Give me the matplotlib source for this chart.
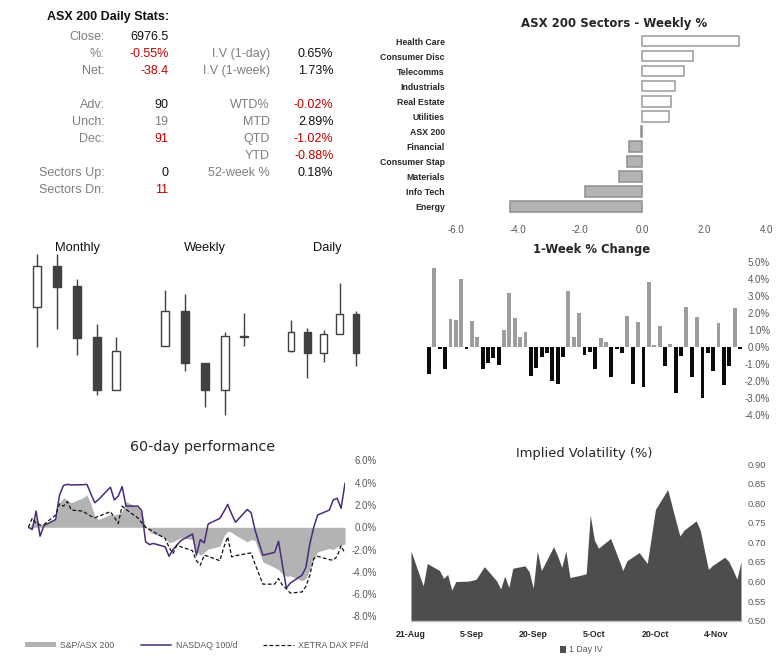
import matplotlib
matplotlib.use("Agg")
import matplotlib.pyplot as plt
import numpy as np
import pandas as pd
from matplotlib.lines import Line2D
from matplotlib.patches import Patch

plt.rcParams['font.family'] = ['Liberation Sans', 'DejaVu Sans']

W, H = 780, 656

# ---------------- data ----------------
stats_title = "ASX 200 Daily Stats:"
left_labels = ["Close:", "%:", "Net:", "", "Adv:", "Unch:", "Dec:", "", "Sectors Up:", "Sectors Dn:"]
left_values = ["6976.5", "-0.55%", "-38.4", "", "90", "19", "91", "", "0", "11"]
left_tone = ["k", "r", "r", "k", "k", "g", "r", "k", "k", "r"]
right_labels = ["", "I.V (1-day)", "I.V (1-week)", "", "WTD%", "MTD", "QTD", "YTD", "52-week %", ""]
right_values = ["", "0.65%", "1.73%", "", "-0.02%", "2.89%", "-1.02%", "-0.88%", "0.18%", ""]
right_tone = ["k", "k", "k", "k", "r", "k", "r", "r", "k", "k"]

sectors = ["Health Care", "Consumer Disc", "Telecomms", "Industrials", "Real Estate", "Utilities",
           "ASX 200", "Financial", "Consumer Stap", "Materials", "Info Tech", "Energy"]
sector_weekly = [3.13, 1.65, 1.36, 1.06, 0.95, 0.86, -0.02, -0.43, -0.50, -0.75, -1.83, -4.27]
sector_ticks = [-6.0, -4.0, -2.0, 0.0, 2.0, 4.0]

week_change = [-1.57, 4.65, -0.08, -1.25, 1.67, 1.59, 4.0, -0.08, 1.55, 0.61, -1.25, -0.9, -0.61,
               -1.04, 1.02, 3.22, 1.75, 0.61, 0.9, -1.69, -1.22, -0.57, -0.33, -1.98, -2.16, -0.59,
               3.33, 0.61, 2.04, -0.45, -0.3, -1.27, 0.53, 0.29, -1.75, -0.1, -0.33, 1.84, -2.16,
               1.51, -2.33, 3.82, 0.14, 1.25, -1.1, 0.2, -2.69, -0.51, 2.39, -1.75, 1.8, -2.98,
               -0.31, -1.39, 1.45, -2.22, -1.1, 2.33, -0.08]
week_ticks = [-4, -3, -2, -1, 0, 1, 2, 3, 4, 5]

monthly_o = [7203, 7410, 7308, 7048, 6780]
monthly_h = [7471, 7471, 7342, 7113, 7047]
monthly_l = [6999, 7091, 6958, 6751, 6780]
monthly_c = [7410, 7305, 7045, 6780, 6976.5]

weekly_o = [6942.5, 7073.5, 6875.7, 6776.2, 6977.8]
weekly_h = [7152.9, 7137.8, 6875.7, 6992.9, 7064.7]
weekly_l = [6942.5, 6845.5, 6711.9, 6680.4, 6940.0]
weekly_c = [7073.5, 6875.7, 6776.2, 6977.8, 6976.5]

daily_o = [6978.5, 6997.2, 6976.5, 6995.2, 7014.9]
daily_h = [7009.3, 7001.1, 6999.5, 7045.4, 7018.2]
daily_l = [6977.8, 6951.9, 6967.6, 6995.2, 6964.0]
daily_c = [6997.2, 6976.5, 6995.2, 7014.9, 6976.5]

trade_days = pd.bdate_range("2023-08-21", "2023-11-10")

asx200_perf = [0.0, 0.3, 0.9, 0.2, 0.3,
               0.7, 2.2, 2.65, 2.45, 2.2,
               2.65, 2.9, 2.1, 1.0, 0.7,
               1.15, 1.1, 1.2, 1.4, 2.3,
               1.8, 1.3, 0.1, -0.4, -0.6,
               -0.95, -1.4, -1.3, -1.1, -0.95,
               -1.1, -2.1, -2.5, -2.25, -1.95,
               -1.7, -0.8, -0.35, -0.45, -0.7,
               -1.3, -1.1, -1.2, -2.2, -3.1,
               -3.6, -3.8, -4.2, -4.4, -4.35,
               -4.8, -4.6, -3.8, -2.9, -2.2,
               -1.9, -2.0, -1.75, -1.6, -1.5]
nasdaq_perf = [0.0, -0.2, 1.45, -0.8, 0.15,
               0.7, 2.9, 3.75, 3.85, 3.8,
               3.82, 3.85, 3.0, 2.2, 2.5,
               3.6, 2.45, 2.8, 3.65, 1.9,
               1.9, 1.5, -1.3, -1.55, -1.45,
               -1.75, -2.6, -2.0, -1.6, -1.2,
               -0.6, -2.5, -1.1, -1.4, 0.3,
               0.8, 1.4, 2.05, 1.2, 0.45,
               1.6, 1.3, -0.25, -1.4, -2.5,
               -2.25, -1.25, -3.4, -5.45, -5.0,
               -4.3, -3.6, -1.5, 0.0, 1.1,
               1.55, 2.45, 2.6, 1.7, 3.95]
dax_perf = [0.0, 0.8, 0.35, 0.2, 0.25,
            1.1, 2.1, 1.9, 2.3, 1.55,
            1.45, 1.2, 1.0, 0.85, 1.0,
            1.4, 0.9, 0.35, 1.9, 1.6,
            0.85, 0.4, 0.0, -0.2, -0.4,
            -1.0, -1.8, -2.35, -1.6, -1.75,
            -2.1, -3.0, -3.4, -2.5, -2.6,
            -3.0, -1.8, -0.85, -2.65, -2.55,
            -2.35, -2.3, -3.3, -4.2, -5.1,
            -5.1, -4.6, -5.2, -5.5, -5.9,
            -5.8, -5.3, -4.3, -2.8, -2.6,
            -2.9, -2.95, -2.6, -1.65, -2.35]
perf_ticks = [-8, -6, -4, -2, 0, 2, 4, 6]
perf_labels = ["S&P/ASX 200", "NASDAQ 100/d", "XETRA DAX PF/d"]

iv_1day = [0.678, 0.648, 0.618, 0.589, 0.646,
           0.628, 0.608, 0.618, 0.578, 0.600,
           0.601, 0.603, 0.606, 0.622, 0.638,
           0.602, 0.581, 0.614, 0.585, 0.634,
           0.640, 0.625, 0.583, 0.678, 0.628,
           0.689, 0.665, 0.636, 0.678, 0.610,
           0.617, 0.620, 0.770, 0.706, 0.685,
           0.710, 0.683, 0.656, 0.628, 0.653,
           0.674, 0.660, 0.646, 0.715, 0.784,
           0.835, 0.795, 0.755, 0.716, 0.731,
           0.755, 0.731, 0.680, 0.631, 0.641,
           0.662, 0.651, 0.630, 0.606, 0.651]
iv_tick_labels = ["21-Aug", "5-Sep", "20-Sep", "5-Oct", "20-Oct", "4-Nov"]
iv_ticks = [0.50, 0.55, 0.60, 0.65, 0.70, 0.75, 0.80, 0.85, 0.90]

# ---------------- figure ----------------
fig = plt.figure(figsize=(W / 100, H / 100), dpi=100)
fig.patch.set_facecolor("white")


def px_axes(x0, y0, x1, y1):
    return fig.add_axes([x0 / W, 1 - y1 / H, (x1 - x0) / W, (y1 - y0) / H])


def fx(x):
    return x / W


def fy(y):
    return 1 - y / H


TONE = {"k": "#111111", "r": "#c00000", "g": "#7f7f7f"}
LABEL_GREY = "#7f7f7f"
TICK_GREY = "#595959"
NARROW = ['Liberation Sans Narrow', 'Liberation Sans', 'DejaVu Sans']

# ---- stats table ----
fig.text(fx(47), fy(17), stats_title, fontsize=9, fontweight="bold", ha="left", va="center", color="#111111")
row_y0, row_dy = 36.7, 17.0
for i in range(len(left_labels)):
    yy = fy(row_y0 + row_dy * i)
    if left_labels[i]:
        fig.text(fx(104.5), yy, left_labels[i], fontsize=9, ha="right", va="center", color=LABEL_GREY)
        fig.text(fx(168.5), yy, left_values[i], fontsize=9, ha="right", va="center", color=TONE[left_tone[i]])
    if right_labels[i]:
        fig.text(fx(270), yy, right_labels[i], fontsize=9, ha="right", va="center", color=LABEL_GREY)
        fig.text(fx(333.5), yy, right_values[i], fontsize=9, ha="right", va="center", color=TONE[right_tone[i]])

# ---- sector chart ----
ax = px_axes(456, 32, 766, 215.7)
ypos = np.arange(len(sectors))
fills = ["white" if v >= 0 else "#b4b4b4" for v in sector_weekly]
edges = ["#9a9a9a" if v >= 0 else "#8f8f8f" for v in sector_weekly]
ax.barh(ypos, sector_weekly, height=0.7, color=fills, edgecolor=edges, linewidth=1.1)
ax.set_xlim(-6, 4)
ax.set_ylim(11.6, -0.6)
ax.set_xticks(sector_ticks)
ax.set_xticklabels(["%.1f" % t for t in sector_ticks], fontsize=7, color=TICK_GREY, family=NARROW)
ax.set_yticks(ypos)
ax.set_yticklabels(sectors, fontsize=6.3, fontweight="bold", color="#262626", family=NARROW)
ax.tick_params(axis="both", length=0)
ax.tick_params(axis="x", pad=7)
ax.tick_params(axis="y", pad=8)
for s in ax.spines.values():
    s.set_visible(False)
fig.text(fx(614), fy(24), "ASX 200 Sectors - Weekly %", fontsize=8.5, fontweight="bold",
         family="DejaVu Sans", ha="center", va="center", color="#262626")

# ---- candlesticks ----
def candles(axc, o, h, l, c, ylim):
    x = np.arange(len(o))
    axc.vlines(x, l, h, color="#404040", linewidth=1.0, zorder=1)
    bottoms = [min(a, b) for a, b in zip(o, c)]
    heights = [abs(b - a) for a, b in zip(o, c)]
    cols = ["white" if b >= a else "#404040" for a, b in zip(o, c)]
    axc.bar(x, heights, bottom=bottoms, width=0.41, color=cols, edgecolor="#404040", linewidth=1.0, zorder=2)
    axc.set_xlim(-0.5, len(o) - 0.5)
    axc.set_ylim(*ylim)
    axc.axis("off")


candles(px_axes(27.4, 250, 126.2, 420), monthly_o, monthly_h, monthly_l, monthly_c, (6625.5, 7491.5))
candles(px_axes(155.4, 250, 254.2, 420), weekly_o, weekly_h, weekly_l, weekly_c, (6661.5, 7304.1))
candles(px_axes(282.9, 250, 364.1, 420), daily_o, daily_h, daily_l, daily_c, (6910.9, 7078.2))
for label, cx in (("Monthly", 77), ("Weekly", 205), ("Daily", 327)):
    fig.text(fx(cx), fy(248), label, fontsize=9.3, ha="center", va="center", color="#111111")

# ---- 1-week % change ----
ax = px_axes(426.3, 262.3, 742.7, 415.3)
xb = np.arange(len(week_change))
bcols = ["#9d9d9d" if v >= 0 else "#0a0a0a" for v in week_change]
ax.bar(xb, week_change, width=0.72, color=bcols, linewidth=0)
ax.set_xlim(-0.5, len(week_change) - 0.5)
ax.set_ylim(-4, 5)
ax.set_xticks([])
ax.yaxis.tick_right()
ax.set_yticks(week_ticks)
ax.set_yticklabels(["%.1f%%" % t for t in week_ticks], fontsize=7, color=TICK_GREY, family=NARROW)
for t in ax.get_yticklabels():
    t.set_horizontalalignment("right")
ax.tick_params(axis="y", length=0, pad=19.7)
for s in ax.spines.values():
    s.set_visible(False)
fig.text(fx(592), fy(250), "1-Week % Change", fontsize=8.4, fontweight="bold",
         family="DejaVu Sans", ha="center", va="center", color="#262626")

# ---- 60-day performance ----
ax = px_axes(28.3, 460.4, 345, 616.5)
ax.fill_between(trade_days, asx200_perf, 0, color="#b3b3b3", linewidth=0, label=perf_labels[0])
ax.plot(trade_days, nasdaq_perf, color="#4b2a7b", linewidth=1.1, label=perf_labels[1])
ax.plot(trade_days, dax_perf, color="#111111", linewidth=0.9, dashes=(3, 1.8), label=perf_labels[2])
ax.set_xlim(trade_days[0], trade_days[-1])
ax.set_ylim(-8, 6)
ax.set_xticks([])
ax.yaxis.tick_right()
ax.set_yticks(perf_ticks)
ax.set_yticklabels(["%.1f%%" % t for t in perf_ticks], fontsize=7, color=TICK_GREY, family=NARROW)
for t in ax.get_yticklabels():
    t.set_horizontalalignment("right")
ax.tick_params(axis="y", length=0, pad=23)
for s in ax.spines.values():
    s.set_visible(False)
fig.text(fx(203), fy(447), "60-day performance", fontsize=10.3, family="DejaVu Sans",
         ha="center", va="center", color="#262626")
handles = [Patch(facecolor="#b3b3b3", edgecolor="none"),
           Line2D([], [], color="#4b2a7b", linewidth=1.1),
           Line2D([], [], color="#111111", linewidth=0.9, dashes=(3, 1.8))]
fig.legend(handles, perf_labels, loc="center", bbox_to_anchor=(fx(197), fy(645)), ncol=3,
           frameon=False, fontsize=6.3, handlelength=3.5, handleheight=0.5, columnspacing=3.0,
           handletextpad=0.5, labelcolor=TICK_GREY)

# ---- implied volatility ----
ax = px_axes(411, 464, 741, 620.7)
ax.fill_between(trade_days, iv_1day, 0.5, color="#4d4d4d", linewidth=0, label="1 Day IV")
ax.set_xlim(trade_days[0], trade_days[-1])
ax.set_ylim(0.5, 0.9)
ax.yaxis.tick_right()
ax.set_yticks(iv_ticks)
ax.set_yticklabels(["%.2f" % t for t in iv_ticks], fontsize=6.8, color=TICK_GREY, family=NARROW)
for t in ax.get_yticklabels():
    t.set_horizontalalignment("right")
ax.tick_params(axis="y", length=0, pad=18)
iv_tick_dates = [pd.Timestamp(lbl + "-2023") for lbl in iv_tick_labels]
ax.set_xticks(iv_tick_dates)
ax.set_xticklabels(iv_tick_labels, fontsize=6.3, fontweight="bold", color="#262626", family=NARROW)
ax.tick_params(axis="x", length=0, pad=7)
for k, s in ax.spines.items():
    s.set_visible(k == "bottom")
ax.spines["bottom"].set_color("#bfbfbf")
ax.spines["bottom"].set_linewidth(1.0)
fig.text(fx(584), fy(454), "Implied Volatility (%)", fontsize=9.4, family="DejaVu Sans",
         ha="center", va="center", color="#262626")
fig.legend([Patch(facecolor="#4d4d4d")], ["1 Day IV"], loc="center", bbox_to_anchor=(fx(581), fy(650)),
           frameon=False, fontsize=6.3, handlelength=0.7, handleheight=0.7, handletextpad=0.3,
           labelcolor=TICK_GREY)

fig.savefig("out.png", dpi=100, facecolor="white")
